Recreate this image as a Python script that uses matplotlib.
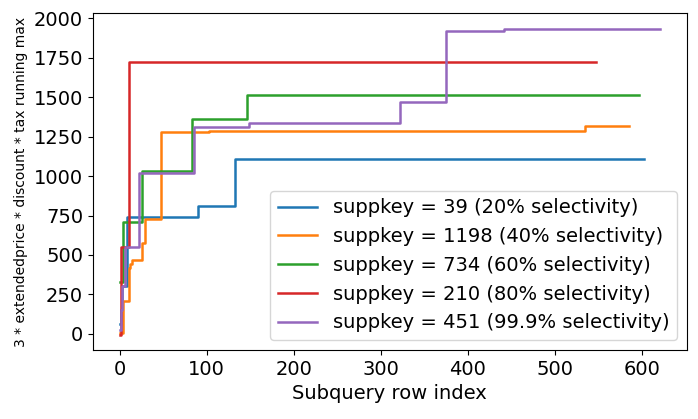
import numpy as np
import matplotlib
matplotlib.use('Agg')
import matplotlib.pyplot as plt

# step change points (row index, running max)
labels = ['suppkey = 39 (20% selectivity)',
          'suppkey = 1198 (40% selectivity)',
          'suppkey = 734 (60% selectivity)',
          'suppkey = 210 (80% selectivity)',
          'suppkey = 451 (99.9% selectivity)']

blue_x = [0, 1, 2, 8, 90, 133, 603]
blue_y = [60, 150, 300, 740, 808, 1110, 1110]

orange_x = [0, 4, 11, 12, 14, 25, 29, 47, 103, 473, 535, 585]
orange_y = [5, 210, 420, 440, 470, 575, 730, 1278, 1283, 1289, 1318, 1318]

green_x = [0, 4, 25, 83, 146, 597]
green_y = [330, 706, 1035, 1365, 1517, 1517]

red_x = [0, 1, 10, 548]
red_y = [-5, 553, 1722, 1722]

purple_x = [0, 1, 3, 6, 22, 85, 149, 322, 375, 442, 621]
purple_y = [25, 150, 300, 553, 1022, 1314, 1339, 1470, 1920, 1935, 1935]

series = [(blue_x, blue_y), (orange_x, orange_y), (green_x, green_y),
          (red_x, red_y), (purple_x, purple_y)]
colors = ['#1f77b4', '#ff7f0e', '#2ca02c', '#d62728', '#9467bd']

plt.rcParams['font.size'] = 14

fig = plt.figure(figsize=(6.98, 4.19), dpi=100)
ax = fig.add_axes([0.133, 0.165, 0.851, 0.803])

for (xs, ys), c, lab in zip(series, colors, labels):
    ax.plot(xs, ys, drawstyle='steps-post', color=c, lw=1.8, label=lab)

ax.set_yticks(np.arange(0, 2001, 250))
ax.set_xticks(np.arange(0, 601, 100))
ax.tick_params(labelsize=14)
ax.set_xlabel('Subquery row index', fontsize=14)
ax.set_ylabel('3 * extendedprice * discount * tax running max', fontsize=10)
ax.legend(loc='lower right', fontsize=14)

fig.savefig('out.png', dpi=100)
